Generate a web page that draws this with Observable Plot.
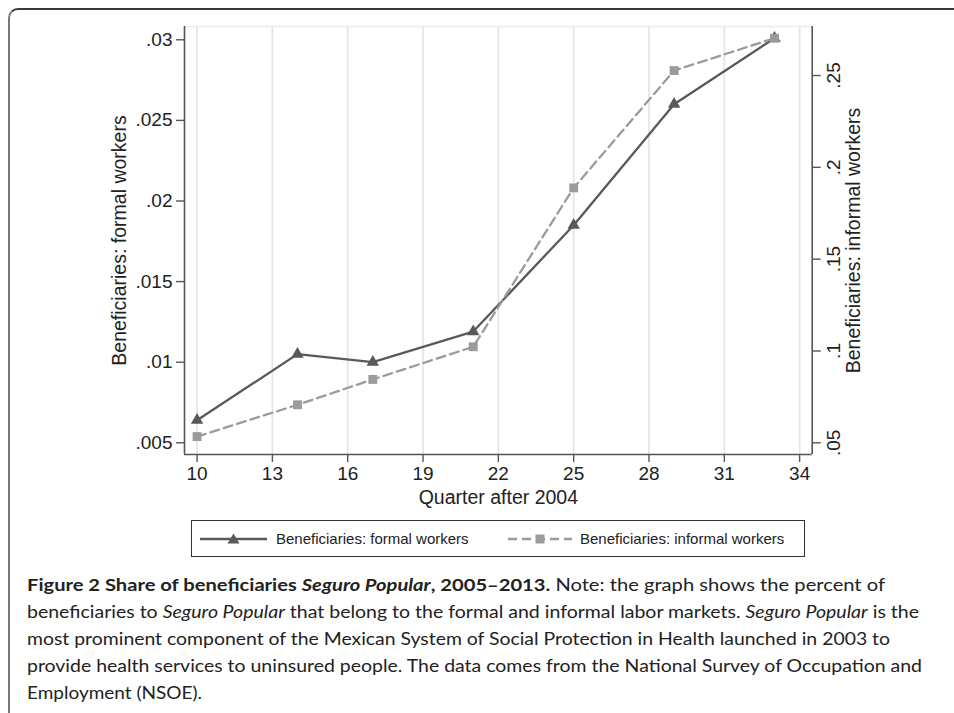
<!DOCTYPE html>
<html>
<head>
<meta charset="utf-8">
<script src="https://cdn.jsdelivr.net/npm/d3@7"></script>
<script src="https://cdn.jsdelivr.net/npm/@observablehq/plot@0.6"></script>
<style>
  html, body { margin: 0; padding: 0; background: #fff; }
  #page { position: relative; width: 954px; height: 713px; overflow: hidden; background: #fff; }
  #frame { position: absolute; left: 8px; top: 8px; width: 980px; height: 740px;
           border-top: 2px solid #3a3a3a; border-left: 2px solid #777; border-top-left-radius: 10px; box-sizing: border-box; }
  #chart { position: absolute; left: 0; top: 0; }
  #legend { position: absolute; left: 191px; top: 520px; width: 614px; height: 37px; box-sizing: border-box;
            border: 1px solid #333; font-family: "Liberation Sans", Arial, sans-serif; font-size: 15px; color: #222; }
  .lg { position: absolute; top: 0; height: 35px; line-height: 35px; white-space: nowrap; }
  .sw { position: absolute; top: 0; }
  .cap { position: absolute; left: 27px; height: 27px; line-height: 27px; white-space: nowrap;
         font-family: Lato, "Open Sans", sans-serif; font-size: 17.5px; color: #222; transform-origin: 0 50%; }
  .cap b { font-weight: 700; }
</style>
</head>
<body>
<div id="page">
  <div id="frame"></div>
  <div id="chart"></div>
  <div id="legend"></div>
  <div id="caption"></div>
</div>
<script>
// ---- data ----
const quarters = [10, 14, 17, 21, 25, 29, 33];
const formal   = [0.0064, 0.0105, 0.0100, 0.0119, 0.0185, 0.0260, 0.0301];
const informal = [0.0534, 0.0707, 0.0845, 0.1023, 0.1888, 0.2527, 0.2703];
const xTicks = [10, 13, 16, 19, 22, 25, 28, 31, 34];
const leftTicks = [0.005, 0.01, 0.015, 0.02, 0.025, 0.03];
const rightTicks = [0.05, 0.1, 0.15, 0.2, 0.25];
const seriesNames = ["Beneficiaries: formal workers", "Beneficiaries: informal workers"];
const xTitle = "Quarter after 2004";

const rows = quarters.map((q, i) => ({q, formal: formal[i], informal: informal[i]}));

const leftDomain = [0.004274, 0.030825];
const rightDomain = [0.04363, 0.27669];
const toLeft = d3.scaleLinear().domain(rightDomain).range(leftDomain);
const fmt = v => String(+v.toFixed(4)).replace(/^0\./, ".");

const darkC = "#595959";
const lightC = "#9b9b9b";

const chart = Plot.plot({
  width: 954,
  height: 510,
  marginLeft: 184,
  marginRight: 142.3,
  marginTop: 26,
  marginBottom: 56,
  x: {domain: [9.5, 34.5]},
  y: {domain: leftDomain},
  style: {fontFamily: "'Liberation Sans', Arial, sans-serif", fontSize: "19px", color: "#222", background: "transparent"},
  marks: [
    Plot.gridX(xTicks, {stroke: "#e3e3e3", strokeOpacity: 1, strokeWidth: 1.6}),
    Plot.ruleY([leftDomain[1]], {stroke: "#ececec", strokeWidth: 1.6}),
    Plot.ruleX([9.5], {stroke: "#555", strokeWidth: 1.6}),
    Plot.ruleX([34.5], {stroke: "#555", strokeWidth: 1.6}),
    Plot.ruleY([leftDomain[0]], {stroke: "#555", strokeWidth: 1.6}),
    Plot.axisX(xTicks, {tickSize: 8, tickPadding: 4, stroke: "#555", strokeWidth: 1.4, label: null, fontSize: 19}),
    Plot.axisY(leftTicks, {tickSize: 8, tickPadding: 4, stroke: "#555", strokeWidth: 1.4, label: null, tickFormat: fmt, fontSize: 19}),
    Plot.axisY(rightTicks.map(toLeft), {anchor: "right", tickSize: 8, stroke: "#555", strokeWidth: 1.4, label: null, tickFormat: () => ""}),
    Plot.text(rightTicks, {y: d => toLeft(d), text: d => fmt(d), frameAnchor: "right", dx: 22, rotate: -90, textAnchor: "middle", lineAnchor: "middle", fontSize: 19, fill: "#222"}),
    Plot.text([xTitle], {frameAnchor: "bottom", dy: 43, lineAnchor: "middle", textAnchor: "middle", fontSize: 19.5, fill: "#222"}),
    Plot.text([seriesNames[0]], {frameAnchor: "left", dx: -65, rotate: -90, textAnchor: "middle", lineAnchor: "middle", fontSize: 19.5, fill: "#222"}),
    Plot.text([seriesNames[1]], {frameAnchor: "right", dx: 41.3, rotate: -90, textAnchor: "middle", lineAnchor: "middle", fontSize: 19.5, fill: "#222"}),
    Plot.line(rows, {x: "q", y: "formal", stroke: darkC, strokeWidth: 2.3}),
    Plot.dot(rows, {x: "q", y: "formal", symbol: "triangle", fill: darkC, r: 4.6}),
    Plot.line(rows, {x: "q", y: d => toLeft(d.informal), stroke: lightC, strokeWidth: 2.3, strokeDasharray: "9,5"}),
    Plot.dot(rows, {x: "q", y: d => toLeft(d.informal), symbol: "square", fill: lightC, r: 5})
  ]
});
document.getElementById("chart").appendChild(chart);

// ---- legend ----
const legend = document.getElementById("legend");
function swatch(left, width, color, dash, shape) {
  const ns = "http://www.w3.org/2000/svg";
  const svg = document.createElementNS(ns, "svg");
  svg.setAttribute("width", width); svg.setAttribute("height", 35);
  svg.setAttribute("class", "sw"); svg.style.left = left + "px";
  const ln = document.createElementNS(ns, "line");
  ln.setAttribute("x1", 0); ln.setAttribute("x2", width); ln.setAttribute("y1", 18); ln.setAttribute("y2", 18);
  ln.setAttribute("stroke", color); ln.setAttribute("stroke-width", 2.3);
  if (dash) ln.setAttribute("stroke-dasharray", dash);
  svg.appendChild(ln);
  const c = width / 2;
  const p = document.createElementNS(ns, "path");
  p.setAttribute("d", shape === "triangle"
    ? `M${c},${18 - 5.5}L${c + 6},${18 + 4.5}L${c - 6},${18 + 4.5}Z`
    : `M${c - 4.5},${18 - 4.5}h9v9h-9Z`);
  p.setAttribute("fill", color);
  svg.appendChild(p);
  legend.appendChild(svg);
}
swatch(8, 67, darkC, null, "triangle");
swatch(316, 64, lightC, "9,5", "square");
const t1 = document.createElement("div"); t1.className = "lg"; t1.style.left = "84px"; t1.textContent = seriesNames[0]; legend.appendChild(t1);
const t2 = document.createElement("div"); t2.className = "lg"; t2.style.left = "388px"; t2.textContent = seriesNames[1]; legend.appendChild(t2);

// ---- caption ----
const capLines = [
  {html: '<b>Figure 2 Share of beneficiaries <i>Seguro Popular</i>, 2005–2013.</b> Note: the graph shows the percent of', w: 858},
  {html: 'beneficiaries to <i>Seguro Popular</i> that belong to the formal and informal labor markets. <i>Seguro Popular</i> is the', w: 892},
  {html: 'most prominent component of the Mexican System of Social Protection in Health launched in 2003 to', w: 863},
  {html: 'provide health services to uninsured people. The data comes from the National Survey of Occupation and', w: 895},
  {html: 'Employment (NSOE).', w: 175}
];
const capCenters = [584, 611, 638, 665, 692];
const capBox = document.getElementById("caption");
capLines.forEach((l, i) => {
  const d = document.createElement("div");
  d.className = "cap";
  d.style.top = (capCenters[i] - 13.5) + "px";
  d.innerHTML = l.html;
  capBox.appendChild(d);
  const w = d.getBoundingClientRect().width;
  d.style.transform = `scaleX(${l.w / w})`;
});
</script>
</body>
</html>
